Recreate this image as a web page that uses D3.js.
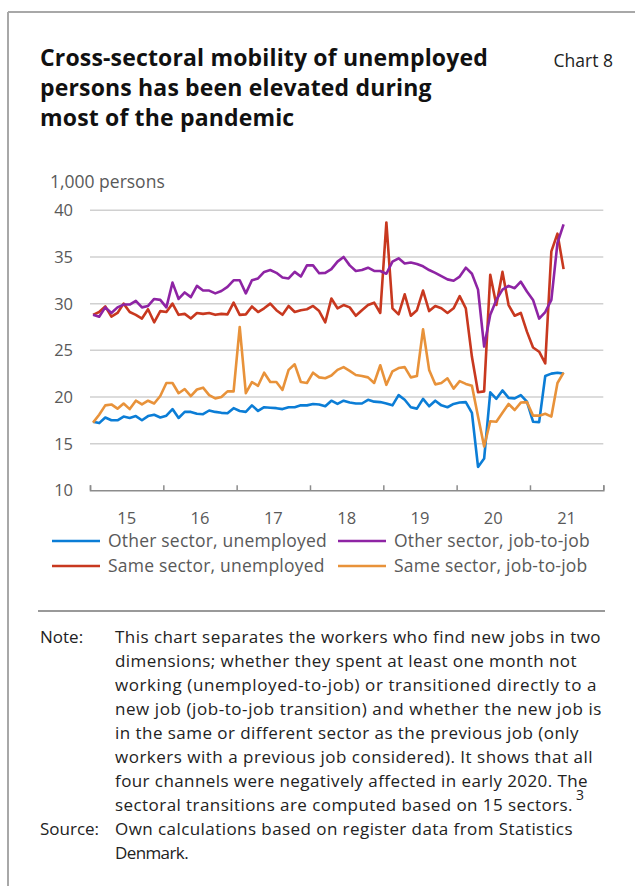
<!DOCTYPE html>
<html><head><meta charset="utf-8">
<script src="https://cdn.jsdelivr.net/npm/d3@7"></script>
<style>
html,body{margin:0;padding:0;background:#fff;}
svg{display:block;}
text{font-family:"Open Sans","Noto Sans",sans-serif;}
</style></head>
<body>
<svg id="c" width="635" height="886"></svg>
<script>
const startYear = 2015;
const yearLabels = ["15","16","17","18","19","20","21"];
const yTicks = [10,15,20,25,30,35,40];
const seriesNames = ["Other sector, unemployed","Other sector, job-to-job","Same sector, unemployed","Same sector, job-to-job"];
const seriesColors = ["#0b7dd6","#8e24a4","#c8381f","#e8923a"];

const otherUnemployed = [17.35,17.2,17.8,17.5,17.5,17.9,17.75,17.95,17.5,17.95,18.1,17.8,18.0,18.7,17.75,18.4,18.4,18.2,18.15,18.55,
 18.4,18.3,18.25,18.8,18.5,18.4,19.1,18.5,18.9,18.85,18.8,18.7,18.9,18.9,19.1,19.1,19.25,19.2,19.0,19.6,
 19.25,19.6,19.4,19.3,19.3,19.7,19.5,19.45,19.3,19.1,20.2,19.7,18.9,18.75,19.8,19.0,19.6,19.1,18.9,
 19.25,19.4,19.45,18.3,12.5,13.4,20.5,19.8,20.7,19.9,19.85,20.2,19.5,17.35,17.3,22.25,22.5,22.6,22.5];
const otherJobToJob = [28.8,28.6,29.6,29.0,29.6,29.9,29.9,30.3,29.6,29.75,30.5,30.4,29.6,32.25,30.5,31.2,30.7,31.9,31.4,31.4,
 31.1,31.35,31.8,32.5,32.5,31.1,32.5,32.7,33.4,33.6,33.3,32.8,32.7,33.4,32.9,34.1,34.1,33.25,33.3,33.7,
 34.5,35.0,34.1,33.5,33.6,33.85,33.5,33.5,33.2,34.5,34.85,34.3,34.4,34.25,34.0,33.6,33.3,32.95,32.6,
 32.45,32.9,33.85,33.2,31.5,25.4,28.8,30.4,31.5,31.9,31.65,32.35,31.3,30.4,28.4,29.1,30.4,36.5,38.5];
const sameUnemployed = [28.8,29.1,29.7,28.6,29.0,30.0,29.1,28.8,28.4,29.4,28.0,29.2,29.1,30.0,28.8,28.9,28.4,29.0,28.9,29.0,
 28.8,28.9,28.85,30.1,28.8,28.85,29.7,29.1,29.5,30.0,29.3,28.8,29.75,29.1,29.3,29.4,29.75,29.2,28.0,30.55,
 29.5,29.85,29.6,28.7,29.3,29.85,30.1,29.0,38.7,29.5,28.85,31.0,28.7,29.3,31.4,29.2,29.75,29.5,29.0,
 29.5,30.8,29.5,24.3,20.5,20.6,33.1,29.85,33.4,29.85,28.7,29.0,27.0,25.3,24.85,23.6,35.6,37.5,33.7];
const sameJobToJob = [17.25,18.1,19.1,19.2,18.75,19.3,18.7,19.6,19.2,19.6,19.3,20.1,21.5,21.5,20.4,20.85,20.1,20.8,21.0,20.2,
 19.85,20.0,20.6,20.6,27.5,20.4,21.6,21.2,22.6,21.6,21.6,20.75,22.9,23.5,21.6,21.5,22.6,22.1,22.0,22.3,
 22.9,23.2,22.8,22.35,22.25,22.1,21.5,23.4,21.3,22.75,23.1,23.2,22.1,22.25,27.25,22.9,21.35,21.5,22.0,
 20.9,21.7,21.4,21.2,17.9,14.7,17.4,17.35,18.3,19.25,18.6,19.4,19.45,18.0,18.0,18.2,17.9,21.5,22.6];

const noteLines = [
 "This chart separates the workers who find new jobs in two",
 "dimensions; whether they spent at least one month not",
 "working (unemployed-to-job) or transitioned directly to a",
 "new job (job-to-job transition) and whether the new job is",
 "in the same or different sector as the previous job (only",
 "workers with a previous job considered). It shows that all",
 "four channels were negatively affected in early 2020. The",
 "sectoral transitions are computed based on 15 sectors."
];
const sourceLines = ["Own calculations based on register data from Statistics","Denmark."];
const titleLines = ["Cross-sectoral mobility of unemployed","persons has been elevated during","most of the pandemic"];

const svg = d3.select("#c");
const grey = "#595959";

function fitSpacing(sel, target){
  const node = sel.nodes()[0];
  const w = node.getComputedTextLength();
  const n = node.textContent.length;
  sel.attr("letter-spacing", ((target - w)/n).toFixed(3));
}
function fitEach(sel, rights, x0){
  sel.each(function(d,i){
    const w = this.getComputedTextLength();
    const n = this.textContent.length;
    d3.select(this).attr("letter-spacing", ((rights[i]-x0 - w)/n).toFixed(3));
  });
}

// frame
svg.append("line").attr("x1",8).attr("x2",635).attr("y1",12).attr("y2",12).attr("stroke","#a8a8a8").attr("stroke-width",2);
svg.append("line").attr("x1",8).attr("x2",8).attr("y1",12).attr("y2",886).attr("stroke","#a8a8a8").attr("stroke-width",2);

// title
const title = svg.append("g").selectAll("text").data(titleLines).join("text")
  .attr("x",40).attr("y",(d,i)=>66+i*30)
  .attr("font-size",23).attr("font-weight","bold").attr("fill","#111").text(d=>d);
fitSpacing(title, 448);
svg.append("text").attr("x",613).attr("y",67).attr("text-anchor","end").attr("font-size",17.5).attr("fill","#222").text("Chart 8");

svg.append("text").attr("x",50).attr("y",188).attr("font-size",17.5).attr("fill",grey).text("1,000 persons");

const nMonths = yearLabels.length*12;
const x = d3.scaleLinear().domain([0,nMonths]).range([90,603.3]);
const y = d3.scaleLinear().domain([10,40]).range([490.3,210.3]);

// gridlines
svg.append("g").selectAll("line").data(yTicks.filter(v=>v>10)).join("line")
  .attr("x1",x(0)).attr("x2",x(nMonths)).attr("y1",d=>y(d)).attr("y2",d=>y(d))
  .attr("stroke","#d0d0d0").attr("stroke-width",1.5);
// y labels
svg.append("g").selectAll("text").data(yTicks).join("text")
  .attr("x",73).attr("y",d=>y(d)+6).attr("text-anchor","end")
  .attr("font-size",16.5).attr("fill",grey).text(d=>d);

// x axis
const xAxis = d3.axisBottom(x).tickValues(d3.range(0,nMonths+1,12)).tickSize(-5).tickFormat("");
const gx = svg.append("g").attr("transform",`translate(0,${y(10)})`).call(xAxis);
gx.select(".domain").attr("stroke","#8c8c8c").attr("stroke-width",1.5);
gx.selectAll(".tick line").attr("stroke","#8c8c8c").attr("stroke-width",1.5);
svg.append("g").selectAll("text").data(yearLabels).join("text")
  .attr("x",(d,i)=>x(i*12+6)).attr("y",524).attr("text-anchor","middle")
  .attr("font-size",16.5).attr("fill",grey).text(d=>d);

// lines
const allSeries = [otherUnemployed, otherJobToJob, sameUnemployed, sameJobToJob];
const line = d3.line().x((d,i)=>x(i+0.5)).y(d=>y(d));
const drawOrder = [0,3,2,1];
drawOrder.forEach(k=>{
  svg.append("path").datum(allSeries[k]).attr("d",line).attr("fill","none")
    .attr("stroke",seriesColors[k]).attr("stroke-width",2.6).attr("stroke-linejoin","round");
});

// legend
const legPos = [[52,541],[338,541],[52,566],[338,566]];
const legTexts = [];
seriesNames.forEach((n,k)=>{
  const [lx,ly] = legPos[k];
  svg.append("line").attr("x1",lx).attr("x2",lx+48).attr("y1",ly).attr("y2",ly)
    .attr("stroke",seriesColors[k]).attr("stroke-width",2.6);
  legTexts.push(svg.append("text").attr("x",lx+56).attr("y",ly+6).attr("font-size",17.5).attr("fill",grey).text(n));
});
fitSpacing(d3.selectAll(legTexts.map(t=>t.node())), 219);

// separator
svg.append("line").attr("x1",38).attr("x2",605).attr("y1",611).attr("y2",611).attr("stroke","#999").attr("stroke-width",2);

// note
const noteColor = "#222";
const noteSize = 17;
svg.append("text").attr("x",40).attr("y",643).attr("font-size",noteSize).attr("fill",noteColor).text("Note:");
const notes = svg.append("g").selectAll("text").data(noteLines).join("text")
  .attr("x",115).attr("y",(d,i)=>643+i*24).attr("font-size",noteSize).attr("fill",noteColor).text(d=>d);
fitEach(notes, [601,577,597,602,579,593,588,573], 115);
const lastNote = notes.nodes()[notes.nodes().length-1];
svg.append("text").attr("x",115 + lastNote.getComputedTextLength() + 3).attr("y",800)
  .attr("font-size",14).attr("fill",noteColor).text("3");
svg.append("text").attr("x",40).attr("y",835).attr("font-size",noteSize).attr("fill",noteColor).text("Source:");
const src = svg.append("g").selectAll("text").data(sourceLines).join("text")
  .attr("x",115).attr("y",(d,i)=>835+i*24).attr("font-size",noteSize).attr("fill",noteColor).text(d=>d);
fitEach(src, [573,188], 115);
</script>
</body></html>
